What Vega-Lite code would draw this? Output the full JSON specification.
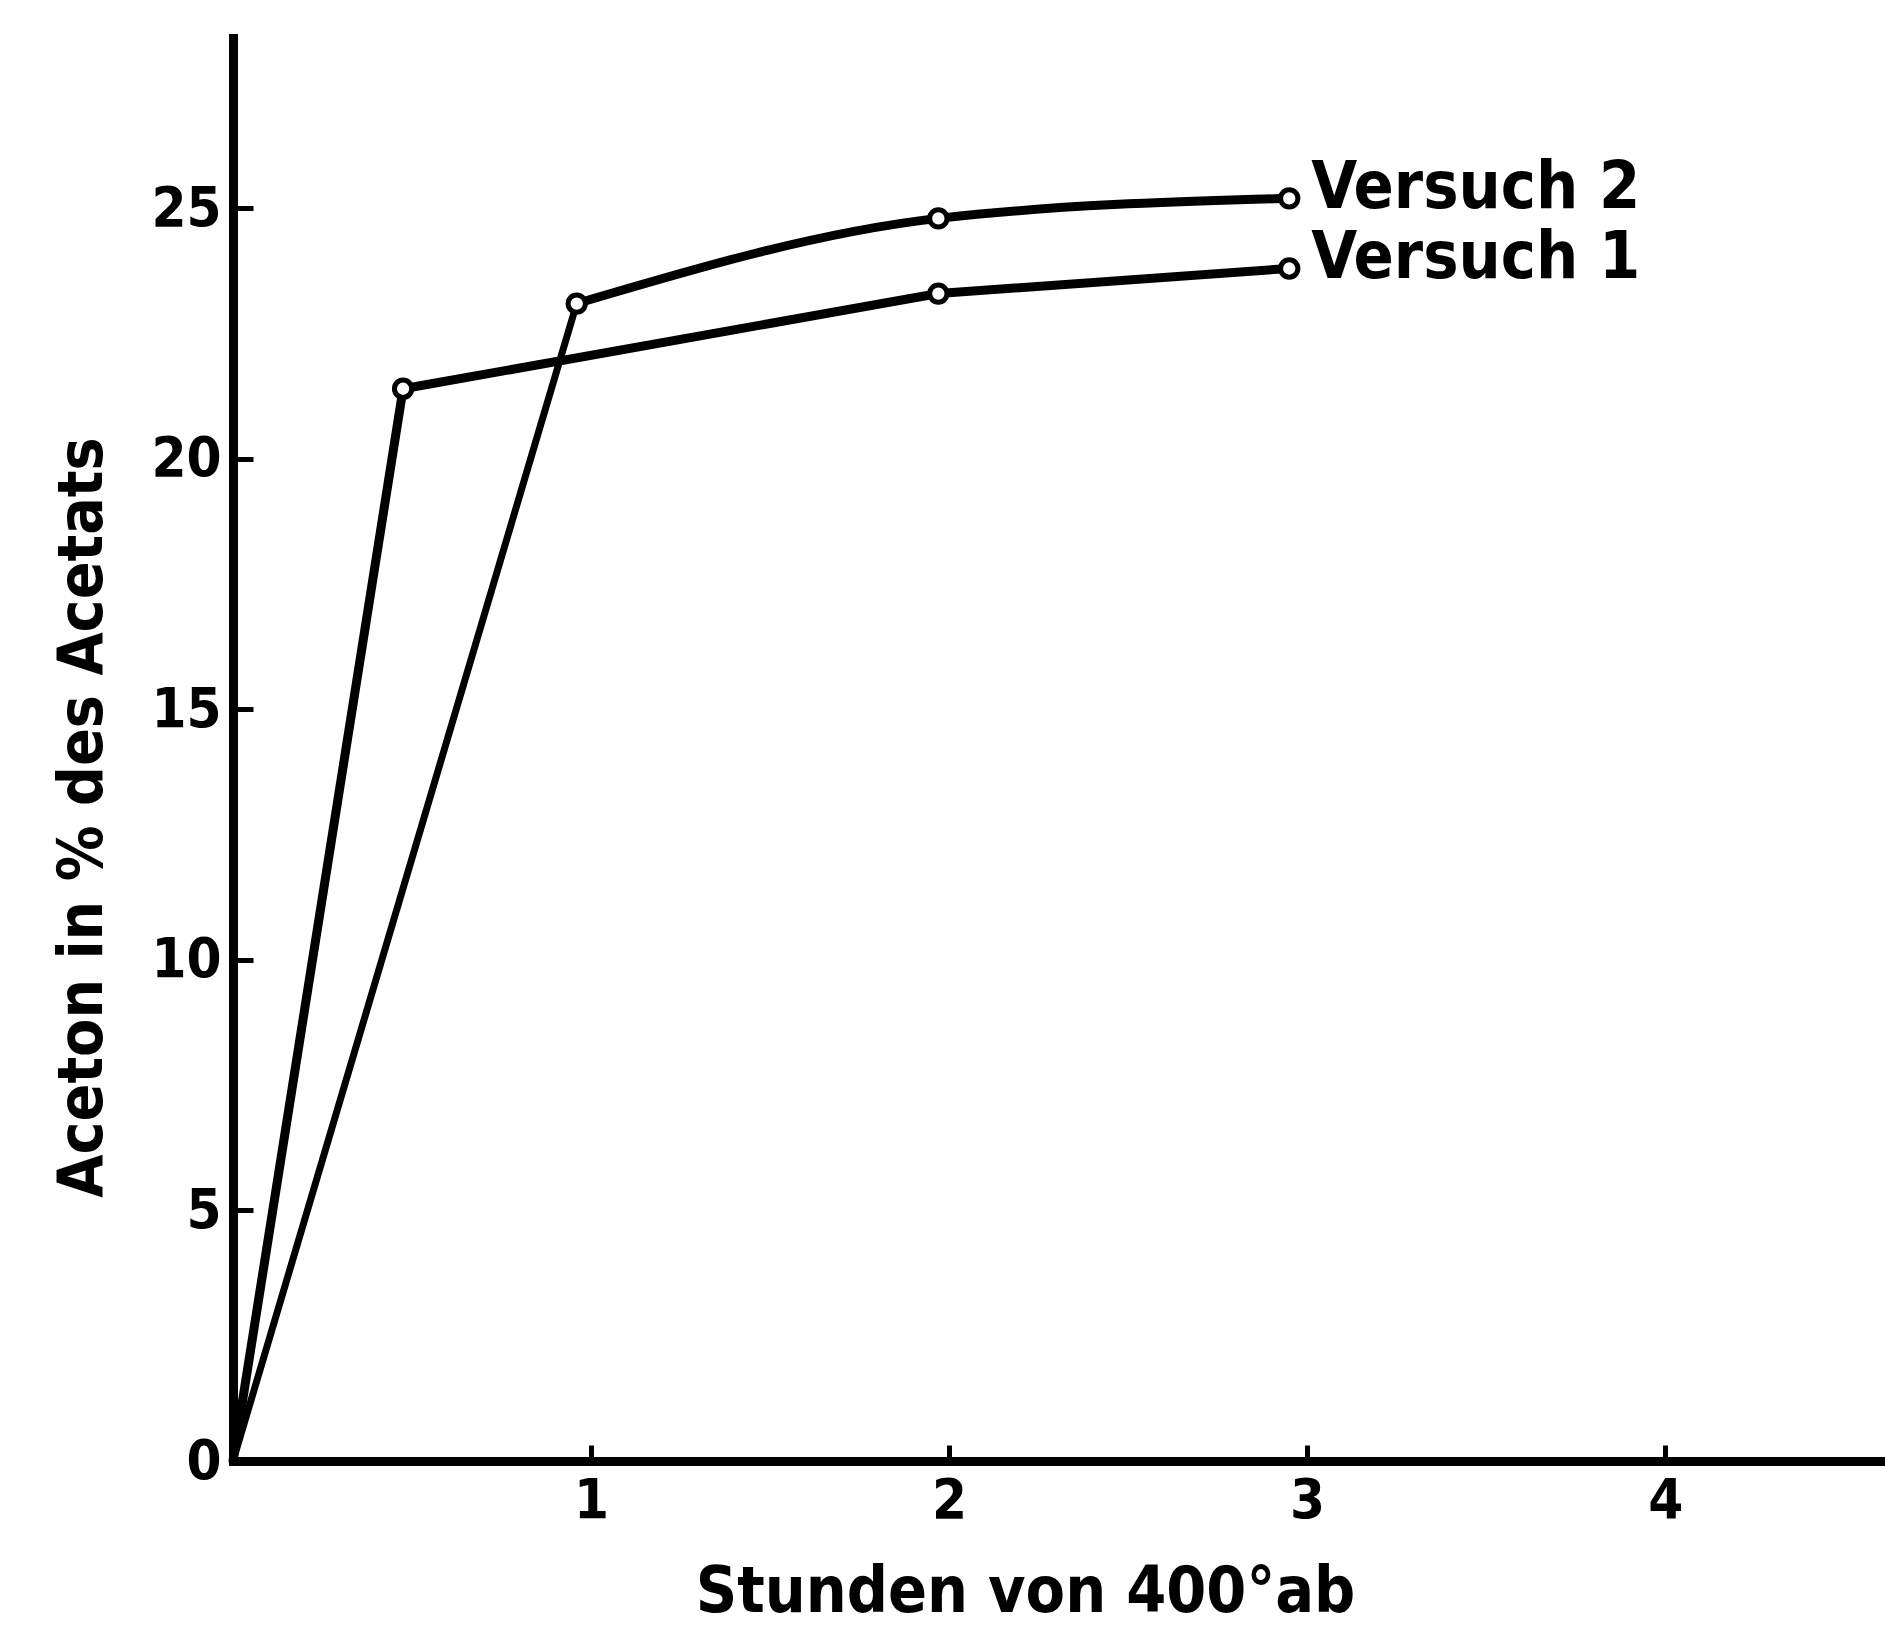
{
  "$schema": "https://vega.github.io/schema/vega-lite/v6.json",
  "width": 1647,
  "height": 1423,
  "padding": {"left": 233, "top": 38, "right": 5, "bottom": 169},
  "autosize": {"type": "none"},
  "background": "white",
  "config": {
    "view": {"stroke": null},
    "font": "DejaVu Sans Condensed, sans-serif"
  },
  "data": {
    "values": [
      {"series": "Versuch 1", "t": 0, "aceton": 0},
      {"series": "Versuch 1", "t": 0.475, "aceton": 21.4},
      {"series": "Versuch 1", "t": 1.97, "aceton": 23.3},
      {"series": "Versuch 1", "t": 2.95, "aceton": 23.8},
      {"series": "Versuch 2", "t": 0, "aceton": 0},
      {"series": "Versuch 2", "t": 0.96, "aceton": 23.1},
      {"series": "Versuch 2", "t": 1.97, "aceton": 24.8},
      {"series": "Versuch 2", "t": 2.95, "aceton": 25.2}
    ]
  },
  "encoding": {
    "x": {
      "field": "t",
      "type": "quantitative",
      "scale": {"domain": [0, 4.6], "nice": false, "zero": false},
      "axis": {
        "title": "Stunden von 400°ab",
        "values": [1, 2, 3, 4],
        "format": "d",
        "grid": false,
        "domainColor": "black",
        "domainWidth": 9,
        "domainCap": "square",
        "tickColor": "black",
        "tickWidth": 5,
        "tickSize": -16,
        "labelPadding": 28,
        "labelFontSize": 56,
        "labelFontWeight": "bold",
        "labelColor": "black",
        "labelFlush": false,
        "labelOverlap": false,
        "titleFontSize": 64,
        "titleFontWeight": "bold",
        "titleColor": "black",
        "titleX": 792,
        "titleY": 150,
        "titleAlign": "center",
        "titleBaseline": "alphabetic",
        "titleAnchor": null
      }
    },
    "y": {
      "field": "aceton",
      "type": "quantitative",
      "scale": {"domain": [0, 28.4], "nice": false},
      "axis": {
        "title": "Aceton in % des Acetats",
        "values": [0, 5, 10, 15, 20, 25],
        "grid": false,
        "domainColor": "black",
        "domainWidth": 9,
        "domainCap": "square",
        "tickColor": "black",
        "tickWidth": 5,
        "tickSize": -20,
        "labelPadding": 32,
        "labelFontSize": 56,
        "labelFontWeight": "bold",
        "labelColor": "black",
        "labelFlush": false,
        "labelOverlap": false,
        "titleFontSize": 62,
        "titleFontWeight": "bold",
        "titleColor": "black",
        "titleX": -132,
        "titleY": 779,
        "titleAngle": -90,
        "titleAlign": "center",
        "titleBaseline": "alphabetic",
        "titleAnchor": null
      }
    }
  },
  "layer": [
    {
      "transform": [{"filter": "datum.series == 'Versuch 1'"}],
      "mark": {"type": "line", "color": "black", "strokeWidth": 9, "strokeJoin": "round", "strokeCap": "round"}
    },
    {
      "transform": [{"filter": "datum.series == 'Versuch 2' && datum.t <= 1"}],
      "mark": {"type": "line", "color": "black", "strokeWidth": 7, "strokeJoin": "round", "strokeCap": "round"}
    },
    {
      "transform": [{"filter": "datum.series == 'Versuch 2' && datum.t >= 0.9"}],
      "mark": {"type": "line", "color": "black", "strokeWidth": 9, "interpolate": "monotone", "strokeJoin": "round", "strokeCap": "round"}
    },
    {
      "transform": [{"filter": "datum.t > 0"}],
      "mark": {"type": "point", "shape": "circle", "filled": true, "fill": "white", "stroke": "black", "strokeWidth": 5, "size": 300, "opacity": 1}
    },
    {
      "transform": [{"filter": "datum.t > 2.9"}],
      "mark": {"type": "text", "align": "left", "baseline": "middle", "dx": 22, "dy": -10, "fontSize": 66, "fontWeight": "bold", "color": "black"},
      "encoding": {"text": {"field": "series"}}
    }
  ]
}
